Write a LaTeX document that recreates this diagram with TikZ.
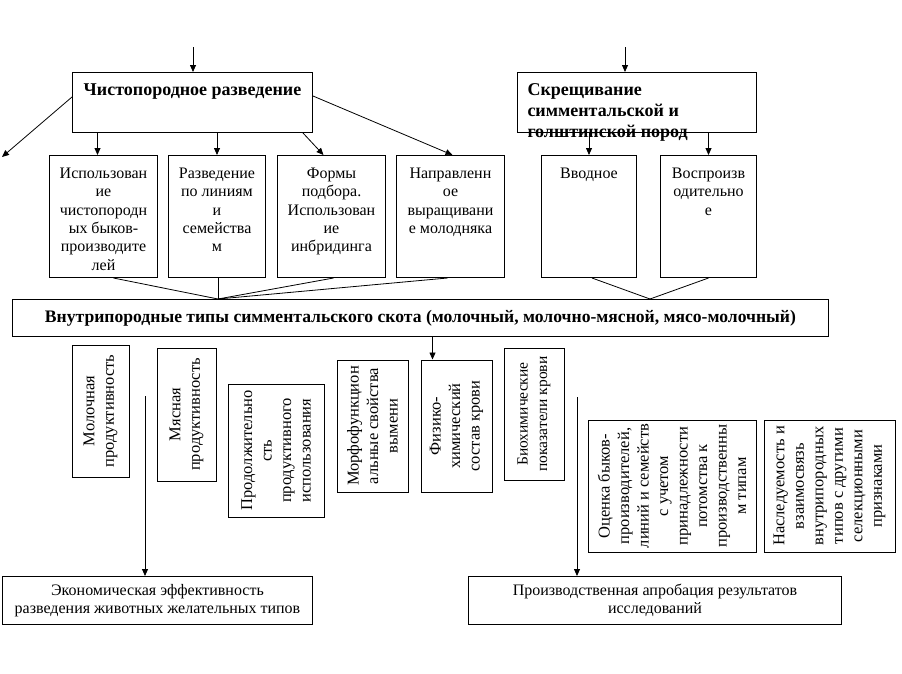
\documentclass[tikz,border=0pt]{standalone}
\usepackage{fontspec}
\setmainfont{Liberation Serif}
\usetikzlibrary{arrows.meta,calc}
\newcommand{\tbx}[4]{\begin{minipage}[c][#2pt][t]{#1pt}\vspace*{#3pt}\centering\rule{0pt}{12pt}#4\end{minipage}}
\newcommand{\lbx}[4]{\hspace*{10pt}\begin{minipage}[c][#2pt][t]{#1pt}\vspace*{#3pt}\raggedright\rule{0pt}{13pt}#4\end{minipage}}
\newcommand{\cbx}[3]{\begin{minipage}[c][#2pt][c]{#1pt}\centering #3\end{minipage}}
\tikzset{
  box/.style={draw=black, line width=1pt, inner sep=0pt, fill=white},
  norm/.style={font=\fontsize{16}{18.3}\selectfont},
  head/.style={font=\fontsize{18}{21}\selectfont\bfseries},
  vbox/.style={box, font=\fontsize{16.5}{19.5}\selectfont, align=center, rotate=90, anchor=center},
  arr/.style={-{Triangle[length=7pt,width=6pt]}, line width=0.8pt},
  ln/.style={line width=0.8pt}
}
\begin{document}
\begin{tikzpicture}[x=1pt,y=-1pt]
\fill[white] (0,0) rectangle (902,673);
\useasboundingbox (0,0) rectangle (902,673);

% top heading boxes
\node[box, head, anchor=north west] (cp) at (72,72) {\tbx{240}{60}{11}{Чистопородное разведение}};
\node[box, head, anchor=north west] (cr) at (517,72) {\lbx{229}{60}{10}{Скрещивание\\симментальской и\\голштинской пород}};

% row of boxes
\node[box, norm, anchor=north west] (b1) at (49,155) {\tbx{108}{122}{11}{Использован\\ие\\чистопородн\\ых быков-\\производите\\лей}};
\node[box, norm, anchor=north west] (b2) at (168,155) {\tbx{97}{122}{11}{Разведение\\по линиям\\и\\семейства\\м}};
\node[box, norm, anchor=north west] (b3) at (277,155) {\tbx{108}{122}{11}{Формы\\подбора.\\Использован\\ие\\инбридинга}};
\node[box, norm, anchor=north west] (b4) at (396,155) {\tbx{108}{122}{11}{Направленн\\ое\\выращивани\\е молодняка}};
\node[box, norm, anchor=north west] (b5) at (541,155) {\tbx{95}{122}{11}{Вводное}};
\node[box, norm, anchor=north west] (b6) at (660,155) {\tbx{96}{122}{11}{Воспроизв\\одительно\\е}};

% main box
\node[box, head, font=\fontsize{17.6}{21}\selectfont\bfseries, anchor=north west] (mb) at (12,299) {\cbx{816}{37}{Внутрипородные типы симментальского скота (молочный, молочно-мясной, мясо-молочный)}};

% vertical boxes (rotated; minimum width = page height, minimum height = page width)
\node[vbox, minimum width=132pt, minimum height=57pt] (v1) at (100.5,411) {Молочная\\продуктивность};
\node[vbox, minimum width=133pt, minimum height=59pt] (v2) at (186.5,414.5) {Мясная\\продуктивность};
\node[vbox, minimum width=133pt, minimum height=96pt] (v3) at (276,450.5) {Продолжительно\\сть\\продуктивного\\использования};
\node[vbox, minimum width=132pt, minimum height=71pt] (v4) at (372.5,426) {Морфофункцион\\альные свойства\\вымени};
\node[vbox, minimum width=132pt, minimum height=71pt] (fz) at (456.5,426) {Физико-\\химический\\состав крови};
\node[vbox, font=\fontsize{15.5}{19.5}\selectfont, minimum width=132pt, minimum height=60pt] (v6) at (534,414) {Биохимические\\показатели крови};
\node[vbox, minimum width=132pt, minimum height=168pt] (v7) at (672,486) {Оценка быков-\\производителей,\\линий и семейств\\с учетом\\принадлежности\\потомства к\\производственны\\м типам};
\node[vbox, minimum width=132pt, minimum height=131pt] (v8) at (829.5,486) {Наследуемость и\\взаимосвязь\\внутрипородных\\типов с другими\\селекционными\\признаками};

% bottom boxes
\node[box, norm, anchor=north west] (ec) at (2,576) {\cbx{310}{48}{Экономическая эффективность\\разведения животных желательных типов}};
\node[box, norm, anchor=north west] (pr) at (468,576) {\cbx{373}{48}{Производственная апробация результатов\\исследований}};

% free ends
\coordinate (in1) at (193,47);
\coordinate (in2) at (625,47);
\coordinate (outL) at (2,157);
\coordinate (J1) at (218,299);
\coordinate (J2) at (650,299);
\coordinate (L1) at (145,396);
\coordinate (R1) at (577,397);

% arrows top
\draw[arr] (in1) -- (in1 |- cp.north);
\draw[arr] (in2) -- (in2 |- cr.north);
\draw[arr] ($(cp.north west)+(0,25)$) -- (outL);
\draw[arr] ($(b1.north |- cp.south)+(-6,0)$) -- ($(b1.north)+(-6,0)$);
\draw[arr] (b2.north |- cp.south) -- (b2.north);
\draw[arr] ($(cp.south east)+(-10,0)$) -- ($(b3.north)+(-8,0)$);
\draw[arr] ($(cp.north east)+(0,24)$) -- ($(b4.north)+(2,0)$);
\draw[arr] (b5.north |- cr.south) -- (b5.north);
\draw[arr] (b6.north |- cr.south) -- (b6.north);

% converging lines
\draw[ln] ($(b1.south)+(10,0)$) -- (J1);
\draw[ln] (J1 |- b2.south) -- (J1);
\draw[ln] ($(b3.south)+(2,0)$) -- (J1);
\draw[ln] ($(b4.south)+(-3,0)$) -- (J1);
\draw[ln] ($(b5.south)+(3,0)$) -- (J2);
\draw[ln] (b6.south) -- (J2);

% main box down (fz is rotated: its page-top-left corner is fz.north east)
\draw[arr] ($(fz.north east |- mb.south)+(12,0)$) -- ($(fz.north east)+(12,0)$);

% bottom arrows
\draw[arr] (L1) -- (L1 |- ec.north);
\draw[arr] (R1) -- (R1 |- pr.north);
\end{tikzpicture}
\end{document}
